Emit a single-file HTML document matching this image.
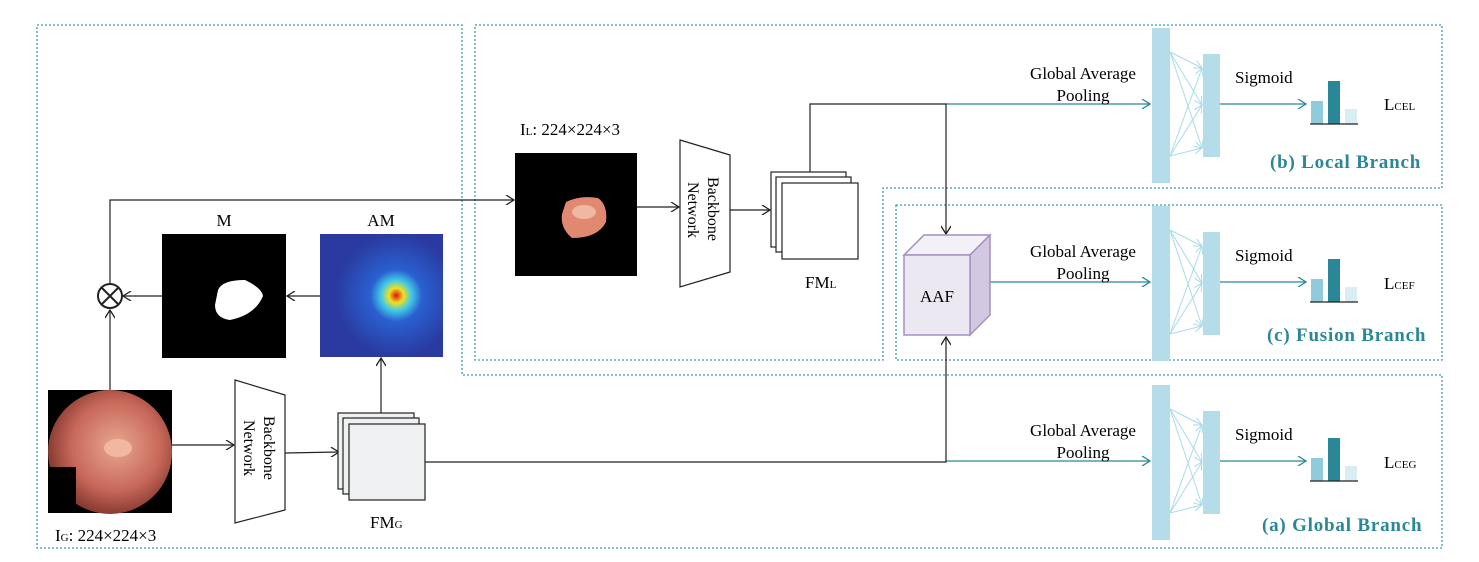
<!DOCTYPE html>
<html><head><meta charset="utf-8"><style>
html,body{margin:0;padding:0;background:#fff;}
svg{display:block;font-family:"Liberation Serif",serif;}
</style></head><body>
<svg width="1479" height="562" viewBox="0 0 1479 562" xmlns="http://www.w3.org/2000/svg">
<defs>
<marker id="ab" markerWidth="10" markerHeight="10" refX="9" refY="5" orient="auto" markerUnits="userSpaceOnUse"><path d="M1,0 L9,5 L1,10" fill="none" stroke="#222" stroke-width="1.3"/></marker>
<marker id="at" markerWidth="10" markerHeight="10" refX="9" refY="5" orient="auto" markerUnits="userSpaceOnUse"><path d="M1,0 L9,5 L1,10" fill="none" stroke="#2a8797" stroke-width="1.3"/></marker>
<marker id="al" markerWidth="10" markerHeight="10" refX="9" refY="5" orient="auto" markerUnits="userSpaceOnUse"><path d="M1,1 L9,5 L1,9" fill="none" stroke="#a8dbe8" stroke-width="1"/></marker>
<radialGradient id="heat" cx="0.62" cy="0.5" r="0.5">
<stop offset="0" stop-color="#e01010"/><stop offset="0.12" stop-color="#f0e020"/><stop offset="0.25" stop-color="#40c8e8"/><stop offset="0.42" stop-color="#2a60d0"/><stop offset="1" stop-color="#2a3aa0"/></radialGradient>
<radialGradient id="endo" cx="0.55" cy="0.45" r="0.6">
<stop offset="0" stop-color="#e8a890"/><stop offset="0.6" stop-color="#c8685a"/><stop offset="1" stop-color="#7a3028"/></radialGradient>
<g id="fc">
<rect x="1152" y="28" width="18" height="155" fill="#b5dde9"/>
<rect x="1203" y="54" width="17" height="103" fill="#b5dde9"/>
<g stroke="#a8dbe8" stroke-width="1" marker-end="url(#al)">
<line x1="1170" y1="52" x2="1202" y2="68"/><line x1="1170" y1="52" x2="1202" y2="105"/><line x1="1170" y1="52" x2="1202" y2="148"/>
<line x1="1170" y1="156" x2="1202" y2="68"/><line x1="1170" y1="156" x2="1202" y2="105"/><line x1="1170" y1="156" x2="1202" y2="148"/>
</g>
<line x1="1220" y1="104" x2="1306" y2="104" stroke="#2a8797" stroke-width="1.3" marker-end="url(#at)"/>
<text x="1235" y="83" font-size="17">Sigmoid</text>
<rect x="1311" y="101" width="12" height="23" fill="#8fcbdb"/>
<rect x="1328" y="81" width="12" height="43" fill="#2a8797"/>
<rect x="1345" y="109" width="12" height="15" fill="#d8eef3"/>
<line x1="1310" y1="124" x2="1358" y2="124" stroke="#222" stroke-width="1.2"/>
<line x1="946" y1="104" x2="1150" y2="104" stroke="#2a8797" stroke-width="1.3" marker-end="url(#at)"/>
<text x="1083" y="79" font-size="17" text-anchor="middle">Global Average</text>
<text x="1083" y="101" font-size="17" text-anchor="middle">Pooling</text>
</g>
</defs>

<!-- dotted boxes -->
<g fill="none" stroke="#3a9aaa" stroke-width="1.3" stroke-dasharray="2,2">
<path d="M37,25 H462 V375 H1442 V548 H37 Z"/>
<path d="M475,25 H1442 V188 H883 V360 H475 Z"/>
<rect x="896" y="205" width="546" height="155"/>
</g>

<use href="#fc"/>
<use href="#fc" transform="translate(0,178)"/>
<use href="#fc" transform="translate(0,357)"/>

<text x="1384" y="110" font-size="17">L<tspan font-size="11">CEL</tspan></text>
<text x="1384" y="289" font-size="17">L<tspan font-size="11">CEF</tspan></text>
<text x="1384" y="468" font-size="17">L<tspan font-size="11">CEG</tspan></text>
<g fill="#2a8797" font-weight="bold" font-size="19" letter-spacing="0.8">
<text x="1270" y="168">(b) Local Branch</text>
<text x="1267" y="341">(c) Fusion Branch</text>
<text x="1262" y="531">(a) Global Branch</text>
</g>

<!-- IG image -->
<rect x="48" y="390" width="124" height="123" fill="#000"/>
<circle cx="110" cy="452" r="62" fill="url(#endo)"/>
<rect x="48" y="467" width="28" height="46" fill="#000"/>
<ellipse cx="118" cy="448" rx="14" ry="9" fill="#f0b8a0"/>
<text x="55" y="541" font-size="17">I<tspan font-size="11">G</tspan>: 224×224×3</text>

<!-- global backbone -->
<path d="M235,380 L285,395 L285,510 L235,523 Z" fill="#fff" stroke="#222" stroke-width="1.2"/>
<text transform="translate(264,416) rotate(90)" font-size="16">Backbone</text>
<text transform="translate(244,420) rotate(90)" font-size="16">Network</text>
<line x1="172" y1="445" x2="234" y2="445" stroke="#222" stroke-width="1.2" marker-end="url(#ab)"/>
<line x1="285" y1="453" x2="339" y2="452" stroke="#222" stroke-width="1.2" marker-end="url(#ab)"/>

<!-- FMG -->
<g fill="#eef0f2" stroke="#222" stroke-width="1.2">
<rect x="338" y="413" width="76" height="76"/><rect x="343" y="418" width="76" height="76"/><rect x="349" y="424" width="76" height="76"/>
</g>
<text x="370" y="528" font-size="17">FM<tspan font-size="11">G</tspan></text>
<line x1="381" y1="413" x2="381" y2="358" stroke="#222" stroke-width="1.2" marker-end="url(#ab)"/>
<path d="M425,462 H946 V337" fill="none" stroke="#222" stroke-width="1.2" marker-end="url(#ab)"/>

<!-- AM -->
<rect x="320" y="234" width="123" height="123" fill="url(#heat)"/>
<text x="381" y="226" font-size="17" text-anchor="middle">AM</text>
<line x1="320" y1="296" x2="287" y2="296" stroke="#222" stroke-width="1.2" marker-end="url(#ab)"/>

<!-- M -->
<rect x="162" y="234" width="124" height="124" fill="#000"/>
<path d="M218,290 Q222,280 245,280 Q262,288 263,296 Q255,315 230,320 Q215,318 215,305 Z" fill="#fff"/>
<text x="224" y="226" font-size="17" text-anchor="middle">M</text>
<line x1="162" y1="296" x2="123" y2="296" stroke="#222" stroke-width="1.2" marker-end="url(#ab)"/>

<!-- otimes -->
<circle cx="110" cy="296" r="12" fill="#fff" stroke="#222" stroke-width="2"/>
<path d="M102,288 L118,304 M118,288 L102,304" stroke="#222" stroke-width="2"/>
<line x1="110" y1="390" x2="110" y2="310" stroke="#222" stroke-width="1.2" marker-end="url(#ab)"/>
<path d="M110,284 V200 H514" fill="none" stroke="#222" stroke-width="1.2" marker-end="url(#ab)"/>

<!-- IL -->
<rect x="515" y="153" width="122" height="123" fill="#000"/>
<path d="M566,202 Q580,195 598,198 Q608,205 606,222 Q598,238 572,238 Q560,228 562,214 Z" fill="#e08870"/>
<ellipse cx="584" cy="212" rx="12" ry="7" fill="#f0b8a0"/>
<text x="520" y="135" font-size="17">I<tspan font-size="11">L</tspan>: 224×224×3</text>
<line x1="637" y1="207" x2="679" y2="207" stroke="#222" stroke-width="1.2" marker-end="url(#ab)"/>

<!-- local backbone -->
<path d="M680,140 L730,155 L730,272 L680,287 Z" fill="#fff" stroke="#222" stroke-width="1.2"/>
<text transform="translate(708,177) rotate(90)" font-size="16">Backbone</text>
<text transform="translate(688,182) rotate(90)" font-size="16">Network</text>
<line x1="730" y1="210" x2="770" y2="210" stroke="#222" stroke-width="1.2" marker-end="url(#ab)"/>

<!-- FML -->
<g fill="#fff" stroke="#222" stroke-width="1.2">
<rect x="771" y="172" width="75" height="75"/><rect x="776" y="177" width="75" height="75"/><rect x="782" y="183" width="76" height="76"/>
</g>
<text x="805" y="288" font-size="17">FM<tspan font-size="11">L</tspan></text>
<path d="M810,172 V104 H946 V234" fill="none" stroke="#222" stroke-width="1.2" marker-end="url(#ab)"/>

<!-- AAF cube -->
<path d="M904,255 L924,235 L990,235 L970,255 Z" fill="#f3f1f8" stroke="#a58fc2" stroke-width="1.5"/>
<path d="M970,255 L990,235 L990,315 L970,335 Z" fill="#d3c8e2" stroke="#a58fc2" stroke-width="1.5"/>
<rect x="904" y="255" width="66" height="80" fill="#ece8f2" stroke="#a58fc2" stroke-width="1.5"/>
<text x="937" y="302" font-size="17" text-anchor="middle">AAF</text>
</svg>
</body></html>
